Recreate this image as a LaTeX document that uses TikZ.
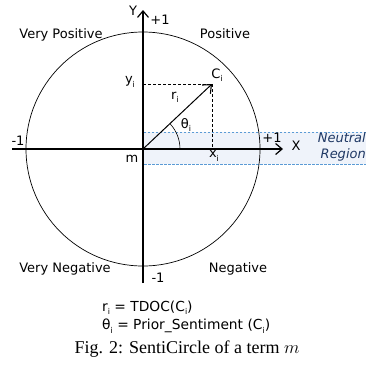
\documentclass[tikz,border=0pt]{standalone}
\usepackage{fix-cm}
\usepackage{fontspec}
\setmainfont{DejaVu Sans}
\newfontfamily\capfont{Liberation Serif}
\usetikzlibrary{arrows.meta}
\definecolor{regfill}{HTML}{EFF3FA}
\definecolor{regline}{HTML}{5B9BD5}
\definecolor{regtext}{HTML}{1F3864}
\newcommand{\sbi}{\raisebox{-0.45ex}{\fontsize{8}{8}\selectfont i}}
\begin{document}
\begin{tikzpicture}[x=1pt,y=-1pt,
  every node/.style={font=\fontsize{13}{15}\selectfont, inner sep=0pt},
  axis/.style={line width=1.2pt, -{Straight Barb[length=6.5pt,width=11pt]}},
  vecline/.style={line width=1pt, -{Straight Barb[length=7pt,width=12pt,line width=1.1pt]}},
  helper/.style={line width=0.7pt, dash pattern=on 3pt off 2pt},
  regborder/.style={regline, line width=0.6pt, dash pattern=on 2.5pt off 1.5pt}]
\useasboundingbox (0,0) rectangle (366,365);
\coordinate (m) at (143,149);
\coordinate (ci) at (212,84);
\coordinate (yi) at (143,84);
\coordinate (xi) at (212,149);
\coordinate (ytop) at (143,10);
\coordinate (ybot) at (143,283);
\coordinate (xleft) at (12,149);
\coordinate (xright) at (283,149);
% neutral region
\fill[regfill] (143,132) rectangle (366,164);
\draw[regborder] (366,132) -- (143,132) -- (143,164) -- (366,164);
% circle
\draw[line width=0.7pt] (m) circle[radius=117pt];
% helpers
\draw[helper] (yi) -- (ci);
\draw[helper] (ci) -- (xi);
% axes
\draw[axis] (ybot) -- (ytop);
\draw[axis] (xleft) -- (xright);
% vector
\draw[vecline] (m) -- (ci);
\draw[line width=0.6pt] (m) ++(37pt,0) arc[start angle=0,end angle=42.5,radius=37pt];
% labels
\node (lY) at (133,11) {Y};
\node (ltop) at (160,20) {+1};
\node (lvp) at (61,35) {Very Positive};
\node (lp) at (225,34) {Positive};
\node (lyi) at (130,82) {y\sbi};
\node (lri) at (175,97) {r\sbi};
\node (lth) at (186,125) {θ\sbi};
\node (lci) at (217,75) {C\sbi};
\node (lxi) at (214,156) {x\sbi};
\node (lleft) at (18,141) {-1};
\node (lm) at (132,159) {m};
\node (lright) at (272,138) {+1};
\node (lX) at (296,146) {X};
\node[anchor=east, align=right, text=regtext, font=\fontsize{13}{16}\itshape] (lnr) at (366,147) {Neutral\\Region};
\node (lvn) at (65,269) {Very Negative};
\node (ln) at (238,269) {Negative};
\node (lbot) at (158,278) {-1};
\node[anchor=west, font=\fontsize{13.8}{16}\selectfont] (f1) at (102,308) {r\sbi{} = TDOC(C\sbi)};
\node[anchor=west, font=\fontsize{13.8}{16}\selectfont] (f2) at (102,326) {θ\sbi{} = Prior\_Sentiment (C\sbi)};
\node[font=\capfont\fontsize{18}{20}\selectfont] (cap) at (187,349) {Fig. 2: SentiCircle of a term $m$};
\end{tikzpicture}
\end{document}
